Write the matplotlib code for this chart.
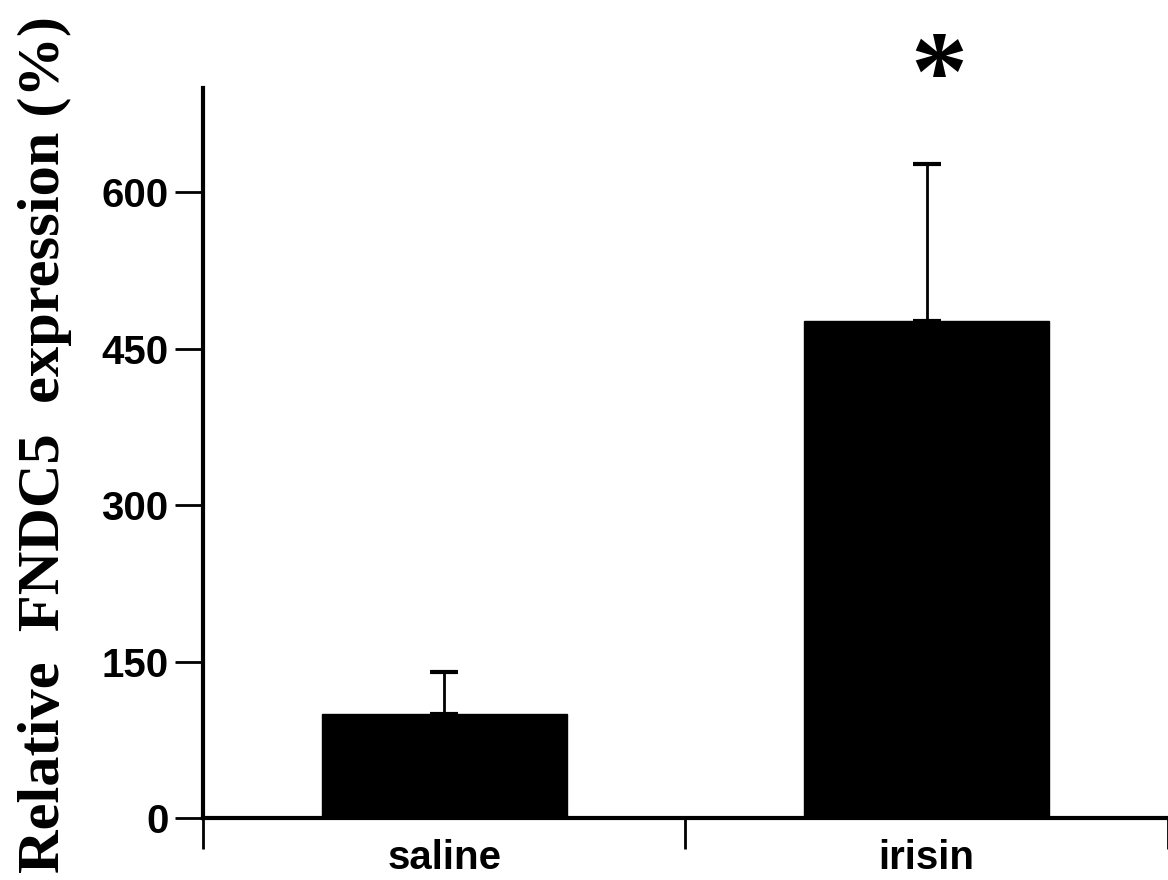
import numpy as np
import matplotlib.pyplot as plt

# values
groups = ['saline', 'irisin']
means = [100, 477]
sem_up = [40, 150]
yticks = [0, 150, 300, 450, 600]

fig = plt.figure(figsize=(11.68, 8.8), dpi=100)
ax = fig.add_axes([0.1738, 0.0705, 0.8262, 0.8295])

x = np.array([0.5, 1.5])
ax.bar(x, means, width=0.508, color='black', edgecolor='black', zorder=2)
ax.errorbar(x, means, yerr=[np.zeros(len(means)), sem_up], fmt='none',
            ecolor='black', elinewidth=2, capsize=10, capthick=3, zorder=1)

ax.set_xlim(0, 1.95)
ax.set_ylim(0, 700)
ax.set_yticks(yticks)
ax.set_xticks([0, 1, 2])
ax.set_xticklabels([])
ax.set_xticks(x, minor=True)
ax.set_xticklabels(groups, minor=True)
ax.tick_params(axis='x', which='minor', length=0, pad=15)

for side in ['top', 'right']:
    ax.spines[side].set_visible(False)
for side in ['left', 'bottom']:
    ax.spines[side].set_linewidth(3)

ax.tick_params(axis='y', which='major', length=20, width=2, pad=5)
ax.tick_params(axis='x', which='major', length=22, width=2)

for lab in ax.get_yticklabels() + ax.get_xticklabels(minor=True):
    lab.set_fontfamily('Liberation Sans')
    lab.set_fontweight('bold')
    lab.set_fontsize(29)

ax.set_ylabel('Relative  FNDC5  expression (%)', family='Liberation Serif',
              fontweight='bold', fontsize=43.5)
ax.yaxis.set_label_coords(-0.136, 0.512)

# significance mark
ax.text(x[1] + 0.025, 707, '*', ha='center', va='center', fontsize=82,
        family='Liberation Serif', fontweight='bold', clip_on=False)

fig.savefig('out.png', dpi=100)
